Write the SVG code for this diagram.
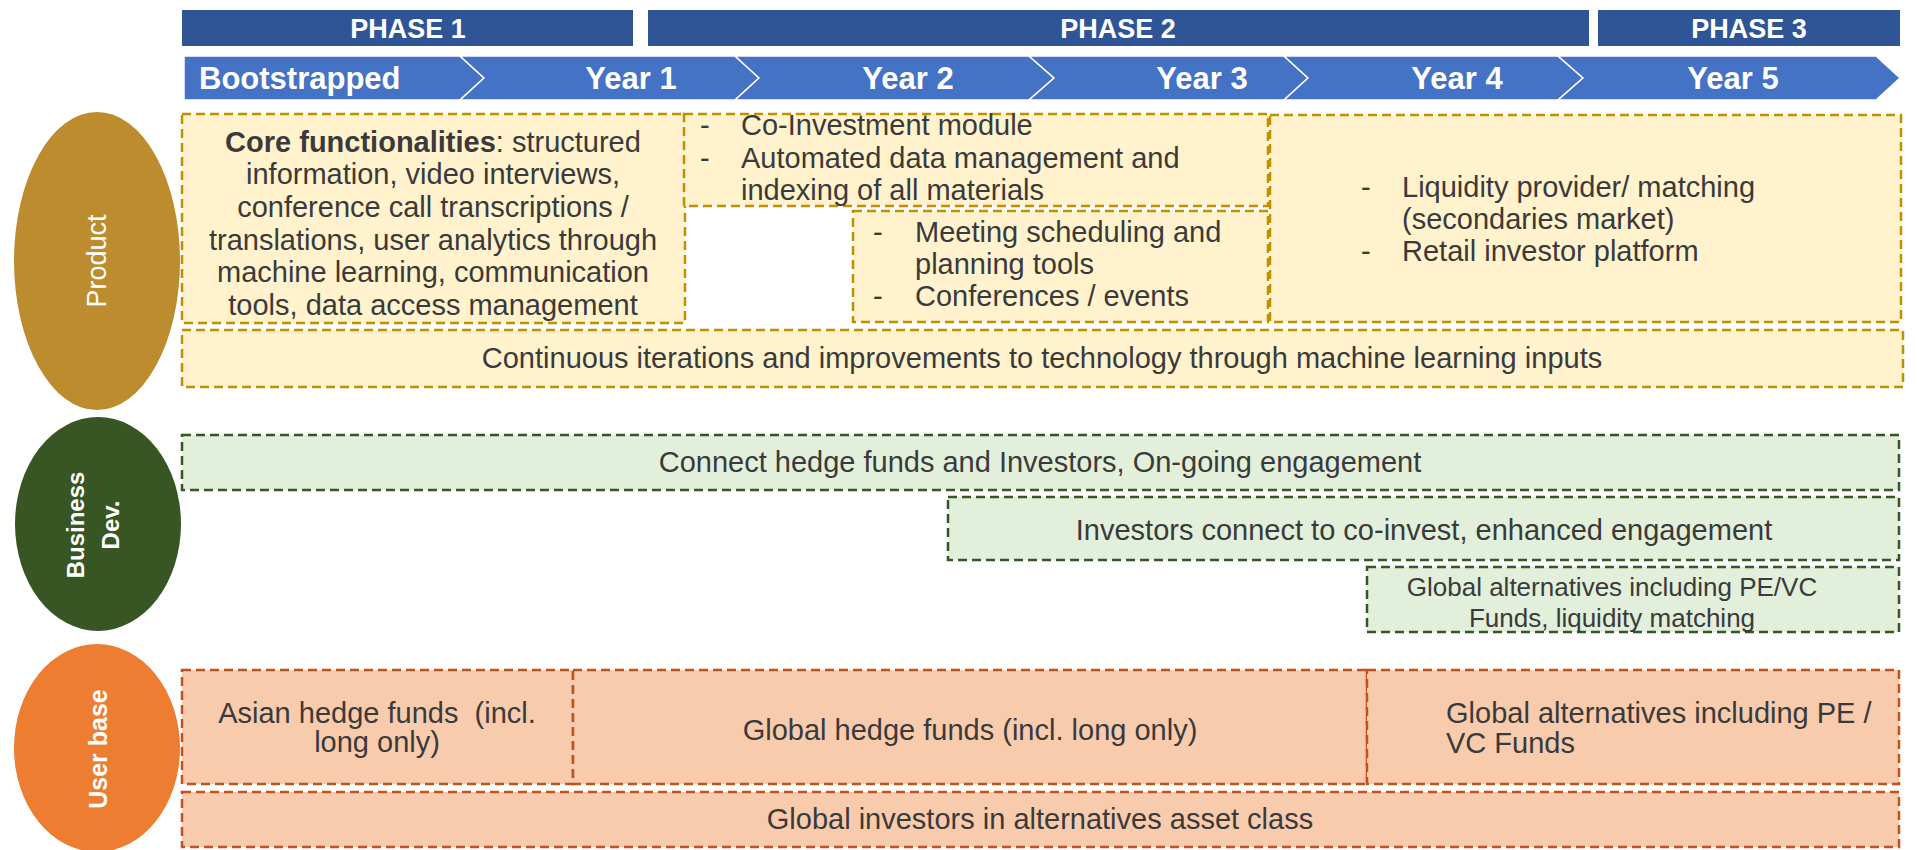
<svg xmlns="http://www.w3.org/2000/svg" width="1917" height="850" viewBox="0 0 1917 850">
<style>
.phase{fill:#2F5597}
.ph{font-family:"Liberation Sans",Arial,sans-serif;font-weight:bold;font-size:27px;fill:#FFFFFF;text-anchor:middle}
.chev{fill:#4472C4;stroke:#FFFFFF;stroke-width:1.5}
.yr{font-family:"Liberation Sans",Arial,sans-serif;font-weight:bold;font-size:31px;fill:#FFFFFF;text-anchor:middle}
.t{font-family:"Liberation Sans",Arial,sans-serif;font-size:29px;fill:#3A3A3A}
.s{font-size:26px}
.c{text-anchor:middle}
.b{font-weight:bold}
.pbox{fill:#FFF2CC;stroke:#BF9000;stroke-width:2.5;stroke-dasharray:9 5}
.gbox{fill:#E2EFDA;stroke:#375623;stroke-width:2.5;stroke-dasharray:9 5}
.obox{fill:#F8CBAD;stroke:#C4501C;stroke-width:2.5;stroke-dasharray:9 5}
.lab{font-family:"Liberation Sans",Arial,sans-serif;fill:#FFFFFF;text-anchor:middle}
</style>
<rect width="1917" height="850" fill="#FFFFFF"/>

<g id="phase1"><rect class="phase" x="182" y="10" width="451" height="36"/><text class="ph" x="408" y="38">PHASE 1</text></g>
<g id="phase2"><rect class="phase" x="648" y="10" width="941" height="36"/><text class="ph" x="1118" y="38">PHASE 2</text></g>
<g id="phase3"><rect class="phase" x="1598" y="10" width="302" height="36"/><text class="ph" x="1749" y="38">PHASE 3</text></g>

<g id="timeline">
<polygon class="chev" points="184,56 460,56 484,78 460,100 184,100"/>
<polygon class="chev" points="460,56 735,56 759,78 735,100 460,100 484,78"/>
<polygon class="chev" points="735,56 1029,56 1054,78 1029,100 735,100 759,78"/>
<polygon class="chev" points="1029,56 1284,56 1308,78 1284,100 1029,100 1054,78"/>
<polygon class="chev" points="1284,56 1558,56 1583,78 1558,100 1284,100 1308,78"/>
<polygon class="chev" points="1558,56 1876,56 1900,78 1876,100 1558,100 1583,78"/>
<text class="yr" x="199" y="89" style="text-anchor:start">Bootstrapped</text>
<text class="yr" x="631" y="89">Year 1</text>
<text class="yr" x="908" y="89">Year 2</text>
<text class="yr" x="1202" y="89">Year 3</text>
<text class="yr" x="1457" y="89">Year 4</text>
<text class="yr" x="1733" y="89">Year 5</text>
</g>

<g id="product-label">
<ellipse cx="97" cy="261" rx="83" ry="149" fill="#BC8C2F"/>
<text class="lab" font-size="27" transform="translate(97,261) rotate(-90)" x="0" y="9">Product</text>
</g>
<g id="bizdev-label">
<ellipse cx="98" cy="524" rx="83" ry="107" fill="#375623"/>
<g transform="translate(97,525) rotate(-90)">
<text class="lab" font-size="24" font-weight="bold" x="0" y="-13">Business</text>
<text class="lab" font-size="24" font-weight="bold" x="0" y="22">Dev.</text>
</g>
</g>
<g id="userbase-label">
<ellipse cx="97" cy="748" rx="83" ry="104" fill="#ED7D31"/>
<text class="lab" font-size="25" font-weight="bold" transform="translate(98,749) rotate(-90)" x="0" y="9">User base</text>
</g>

<g id="core">
<rect class="pbox" x="182" y="114" width="503" height="209"/>
<text class="t c" x="433" y="152"><tspan class="b">Core functionalities</tspan>: structured</text>
<text class="t c" x="433" y="184">information, video interviews,</text>
<text class="t c" x="433" y="217">conference call transcriptions /</text>
<text class="t c" x="433" y="250">translations, user analytics through</text>
<text class="t c" x="433" y="282">machine learning, communication</text>
<text class="t c" x="433" y="315">tools, data access management</text>
</g>
<g id="coinvest">
<rect class="pbox" x="684" y="114" width="584" height="92"/>
<text class="t" x="700" y="135">-</text><text class="t" x="741" y="135">Co-Investment module</text>
<text class="t" x="700" y="168">-</text><text class="t" x="741" y="168">Automated data management and</text>
<text class="t" x="741" y="200">indexing of all materials</text>
</g>
<g id="meeting">
<rect class="pbox" x="853" y="211" width="415" height="111"/>
<text class="t" x="873" y="242">-</text><text class="t" x="915" y="242">Meeting scheduling and</text>
<text class="t" x="915" y="274">planning tools</text>
<text class="t" x="873" y="306">-</text><text class="t" x="915" y="306">Conferences / events</text>
</g>
<g id="liquidity">
<rect class="pbox" x="1270" y="115" width="631" height="207"/>
<text class="t" x="1361" y="197">-</text><text class="t" x="1402" y="197">Liquidity provider/ matching</text>
<text class="t" x="1402" y="229">(secondaries market)</text>
<text class="t" x="1361" y="261">-</text><text class="t" x="1402" y="261">Retail investor platform</text>
</g>
<g id="continuous">
<rect class="pbox" x="182" y="330" width="1721" height="57"/>
<text class="t c" x="1042" y="368">Continuous iterations and improvements to technology through machine learning inputs</text>
</g>

<g id="connect">
<rect class="gbox" x="182" y="435" width="1717" height="55"/>
<text class="t c" x="1040" y="472">Connect hedge funds and Investors, On-going engagement</text>
</g>
<g id="coinvest-engage">
<rect class="gbox" x="948" y="497" width="951" height="63"/>
<text class="t c" x="1424" y="540">Investors connect to co-invest, enhanced engagement</text>
</g>
<g id="global-alt-bd">
<rect class="gbox" x="1367" y="567" width="532" height="65"/>
<text class="t c s" x="1612" y="596">Global alternatives including PE/VC</text>
<text class="t c s" x="1612" y="627">Funds, liquidity matching</text>
</g>

<g id="asian">
<rect class="obox" x="182" y="670" width="391" height="114"/>
<text class="t c" x="377" y="723">Asian hedge funds &#160;(incl.</text>
<text class="t c" x="377" y="752">long only)</text>
</g>
<g id="global-hedge">
<rect class="obox" x="573" y="670" width="794" height="114"/>
<text class="t c" x="970" y="740">Global hedge funds (incl. long only)</text>
</g>
<g id="global-alt-ub">
<rect class="obox" x="1367" y="670" width="532" height="114"/>
<text class="t" x="1446" y="723">Global alternatives including PE /</text>
<text class="t" x="1446" y="753">VC Funds</text>
</g>
<g id="global-investors">
<rect class="obox" x="182" y="792" width="1717" height="55"/>
<text class="t c" x="1040" y="829">Global investors in alternatives asset class</text>
</g>
<g id="connectors"></g>
</svg>
